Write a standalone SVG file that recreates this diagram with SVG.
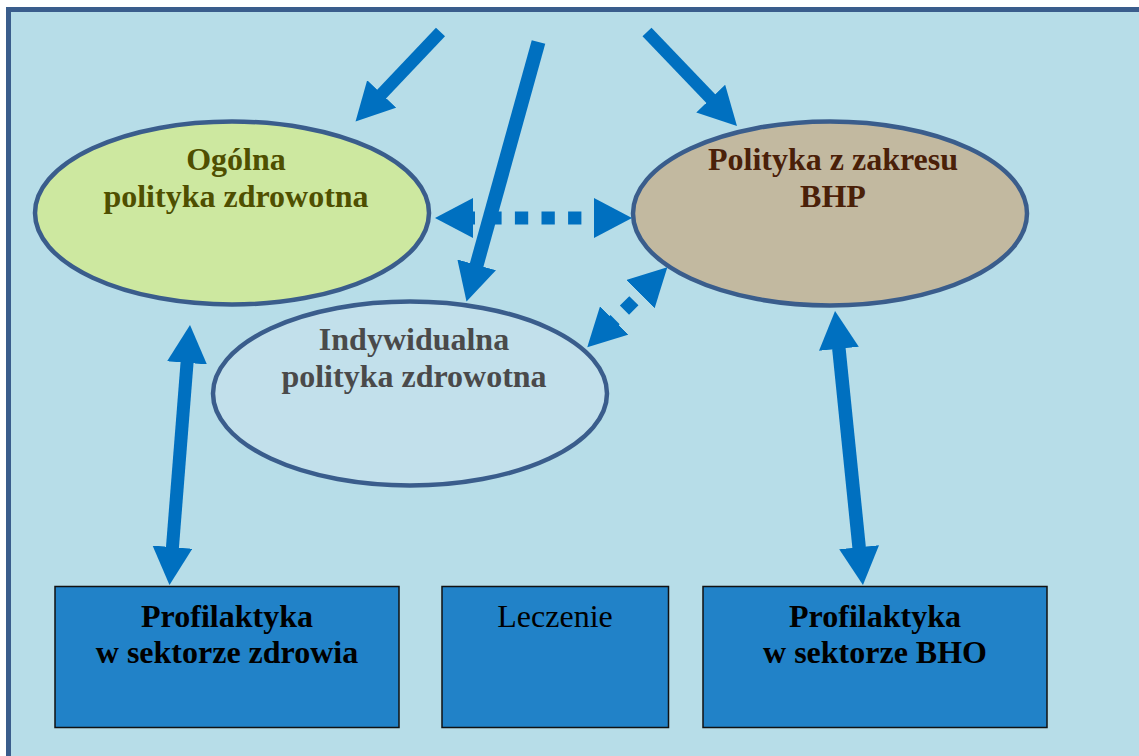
<svg xmlns="http://www.w3.org/2000/svg" width="1139" height="756" viewBox="0 0 1139 756">
  <style>
    .ell { stroke: #3a5d8c; stroke-width: 4.5; }
    .t { font-family: "Liberation Serif", "Times New Roman", serif; font-size: 32px; text-anchor: middle; }
    .b { font-weight: bold; }
    .box { fill: #2182c8; stroke: #111111; stroke-width: 1.5; }
    .sh { stroke: #0070c0; fill: none; stroke-linecap: butt; }
    .dash { stroke: #0070c0; fill: none; stroke-width: 13; stroke-dasharray: 13.3 13.3; }
  </style>
  <defs>
    <marker id="head" markerUnits="userSpaceOnUse" markerWidth="40" markerHeight="40" refX="1" refY="20" orient="auto-start-reverse">
      <path d="M0,0 L38,20 L0,40 Z" fill="#0070c0"/>
    </marker>
    <marker id="headD" markerUnits="userSpaceOnUse" markerWidth="40" markerHeight="40" refX="6" refY="20" orient="auto-start-reverse">
      <path d="M0,0 L38,20 L0,40 Z" fill="#0070c0"/>
    </marker>
  </defs>

  <rect x="0" y="0" width="1139" height="756" fill="#ffffff"/>
  <rect x="8.5" y="9.5" width="1200" height="800" fill="#b7dde8" stroke="#3a5d8c" stroke-width="5"/>

  <g id="node-ogolna">
    <ellipse class="ell" cx="232" cy="213" rx="197" ry="91.5" fill="#cde8a0"/>
    <text class="t b" x="236" y="170" fill="#4f4f00">Ogólna</text>
    <text class="t b" x="236" y="207" fill="#4f4f00">polityka zdrowotna</text>
  </g>

  <g id="node-bhp">
    <ellipse class="ell" cx="830" cy="213.5" rx="197" ry="92" fill="#c2b9a0"/>
    <text class="t b" x="833" y="170" fill="#4a2008">Polityka z zakresu</text>
    <text class="t b" x="833" y="207" fill="#4a2008">BHP</text>
  </g>

  <g id="node-indywidualna">
    <ellipse class="ell" cx="410" cy="393.5" rx="197" ry="92" fill="#c2e0eb"/>
    <text class="t b" x="414" y="350" fill="#4a4a4a">Indywidualna</text>
    <text class="t b" x="414" y="387" fill="#4a4a4a">polityka zdrowotna</text>
  </g>

  <g id="node-profilaktyka-zdrowia">
    <rect class="box" x="55" y="586.5" width="344" height="141"/>
    <text class="t b" x="227" y="627" fill="#000000">Profilaktyka</text>
    <text class="t b" x="227" y="663" fill="#000000">w sektorze zdrowia</text>
  </g>

  <g id="node-leczenie">
    <rect class="box" x="442" y="586.5" width="226.5" height="141"/>
    <text class="t" x="555" y="627" fill="#000000">Leczenie</text>
  </g>

  <g id="node-profilaktyka-bho">
    <rect class="box" x="703" y="586.5" width="344" height="141"/>
    <text class="t b" x="875" y="627" fill="#000000">Profilaktyka</text>
    <text class="t b" x="875" y="663" fill="#000000">w sektorze BHO</text>
  </g>

  <g id="connectors">
    <line class="sh" x1="440.5" y1="32" x2="381" y2="94.7" stroke-width="12.5" marker-end="url(#head)"/>
    <line class="sh" x1="538.5" y1="42" x2="476.4" y2="265.8" stroke-width="14" marker-end="url(#head)"/>
    <line class="sh" x1="647" y1="32" x2="711.4" y2="99.3" stroke-width="12.5" marker-end="url(#head)"/>
    <line class="dash" x1="467" y1="218" x2="600" y2="218" stroke-dashoffset="5.3" marker-start="url(#headD)" marker-end="url(#headD)"/>
    <line class="dash" x1="609.9" y1="324.7" x2="644.7" y2="289.9" stroke-dashoffset="6" marker-start="url(#headD)" marker-end="url(#headD)"/>
    <line class="sh" x1="187.1" y1="361.9" x2="172.4" y2="548.1" stroke-width="13" marker-start="url(#head)" marker-end="url(#head)"/>
    <line class="sh" x1="838.8" y1="347.8" x2="859.2" y2="548.2" stroke-width="13.5" marker-start="url(#head)" marker-end="url(#head)"/>
  </g>
</svg>
